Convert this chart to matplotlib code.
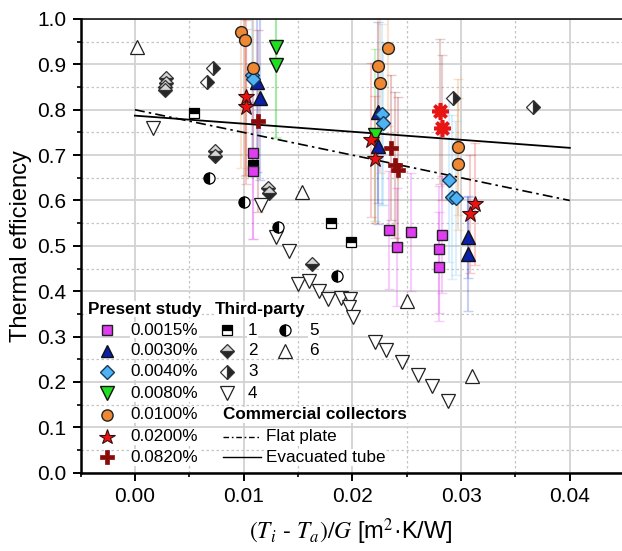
import matplotlib
matplotlib.use('Agg')
import matplotlib.pyplot as plt
from matplotlib.ticker import MultipleLocator, FormatStrFormatter

plt.rcParams['font.family'] = ['Liberation Sans', 'DejaVu Sans']
plt.rcParams['mathtext.fontset'] = 'stix'

# ---------------- Present study (nanofluid concentration) ----------------
x_0015 = [0.0109, 0.0109, 0.0234, 0.0241, 0.0254, 0.0282, 0.0280, 0.0280]
eta_0015 = [0.705, 0.666, 0.535, 0.497, 0.530, 0.525, 0.492, 0.454]
err_0015 = [0.19, 0.15, 0.13, 0.13, 0.13, 0.13, 0.14, 0.12]

x_0030 = [0.0112, 0.0115, 0.0224, 0.0224, 0.0306, 0.0306]
eta_0030 = [0.862, 0.825, 0.794, 0.719, 0.519, 0.482]
err_0030 = [0.20, 0.18, 0.20, 0.17, 0.09, 0.125]

x_0040 = [0.0108, 0.0109, 0.0227, 0.0228, 0.0289, 0.0292, 0.0295]
eta_0040 = [0.877, 0.868, 0.790, 0.770, 0.645, 0.608, 0.606]
err_0040 = [0.20, 0.20, 0.20, 0.18, 0.18, 0.18, 0.17]

x_0080 = [0.0130, 0.0130, 0.0221]
eta_0080 = [0.938, 0.899, 0.744]
err_0080 = [0.20, 0.16, 0.19]

x_0100 = [0.0098, 0.0101, 0.0109, 0.0224, 0.0225, 0.0233, 0.0297, 0.0297]
eta_0100 = [0.972, 0.954, 0.893, 0.896, 0.860, 0.935, 0.717, 0.680]
err_0100 = [0.30, 0.30, 0.20, 0.18, 0.20, 0.17, 0.15, 0.145]

x_0200 = [0.0102, 0.0102, 0.0217, 0.0221, 0.0313, 0.0308]
eta_0200 = [0.827, 0.807, 0.733, 0.691, 0.592, 0.570]
err_0200 = [0.17, 0.17, 0.17, 0.14, 0.135, 0.13]

x_0820 = [0.0113, 0.0236, 0.0239, 0.0242]
eta_0820 = [0.775, 0.716, 0.678, 0.667]
err_0820 = [0.20, 0.16, 0.16, 0.16]

x_extra = [0.0281, 0.0282]
eta_extra = [0.797, 0.760]
err_extra = [0.16, 0.16]

# ---------------- Third-party data ----------------
x_tp1 = [0.0054, 0.0109, 0.0180, 0.0199]
eta_tp1 = [0.792, 0.678, 0.551, 0.508]

x_tp2 = [0.0029, 0.0029, 0.0028, 0.0028, 0.0074, 0.0074, 0.0122, 0.0123, 0.0163]
eta_tp2 = [0.870, 0.860, 0.851, 0.843, 0.709, 0.697, 0.627, 0.617, 0.459]

x_tp3 = [0.0066, 0.0072, 0.0293, 0.0366]
eta_tp3 = [0.862, 0.891, 0.825, 0.807]

x_tp4 = [0.0017, 0.0116, 0.0130, 0.0142, 0.0150, 0.0160, 0.0169, 0.0178, 0.0190,
         0.0198, 0.0197, 0.0201, 0.0221, 0.0231, 0.0246, 0.0260, 0.0273, 0.0288]
eta_tp4 = [0.759, 0.589, 0.519, 0.489, 0.417, 0.422, 0.401, 0.383, 0.386,
           0.383, 0.366, 0.344, 0.287, 0.270, 0.243, 0.215, 0.190, 0.159]

x_tp5 = [0.0068, 0.0100, 0.0132, 0.0186]
eta_tp5 = [0.649, 0.596, 0.541, 0.434]

x_tp6 = [0.0002, 0.0154, 0.0250, 0.0310]
eta_tp6 = [0.938, 0.618, 0.379, 0.213]

# ---------------- Commercial collectors ----------------
x_comm = [0.0, 0.04]
eta_flat = [0.800, 0.600]
eta_evac = [0.787, 0.716]

# ---------------- Styles ----------------
present = [
    ('0.0015%', x_0015, eta_0015, err_0015, dict(marker='s', ms=7, mfc='#E03CF0', mec='#222222', mew=1.0), '#E03CF0'),
    ('0.0030%', x_0030, eta_0030, err_0030, dict(marker='^', ms=9.5, mfc='#0B1FA8', mec='#111111', mew=1.0), '#2040E0'),
    ('0.0040%', x_0040, eta_0040, err_0040, dict(marker='D', ms=7.5, mfc='#4DB3F5', mec='#1a3a5a', mew=1.0), '#70C0F5'),
    ('0.0080%', x_0080, eta_0080, err_0080, dict(marker='v', ms=10, mfc='#1EE01E', mec='#111111', mew=1.0), '#30D030'),
    ('0.0100%', x_0100, eta_0100, err_0100, dict(marker='o', ms=8.5, mfc='#EE8833', mec='#222222', mew=1.0), '#F09040'),
    ('0.0200%', x_0200, eta_0200, err_0200, dict(marker='*', ms=12, mfc='#F01010', mec='#331111', mew=0.8), '#F03030'),
    ('0.0820%', x_0820, eta_0820, err_0820, dict(marker='P', ms=10, mfc='#8B0A0A', mec='#8B0A0A', mew=0.5), '#A02020'),
]

third = [
    ('1', x_tp1, eta_tp1, dict(marker='s', ms=7, fillstyle='top', mfc='black', mfcalt='white', mec='black', mew=0.9)),
    ('2', x_tp2, eta_tp2, dict(marker='D', ms=7.5, fillstyle='bottom', mfc='#262626', mfcalt='#d6d6d6', mec='#333333', mew=0.9)),
    ('3', x_tp3, eta_tp3, dict(marker='D', ms=7.5, fillstyle='right', mfc='#262626', mfcalt='white', mec='#333333', mew=0.9)),
    ('4', x_tp4, eta_tp4, dict(marker='v', ms=10, mfc='white', mec='#222222', mew=0.9)),
    ('5', x_tp5, eta_tp5, dict(marker='o', ms=8, fillstyle='left', mfc='black', mfcalt='white', mec='black', mew=0.9)),
    ('6', x_tp6, eta_tp6, dict(marker='^', ms=10, mfc='white', mec='#222222', mew=0.9)),
]

fig = plt.figure(figsize=(6.22, 5.51), dpi=100)
ax = fig.add_axes([80.5 / 622, (551 - 472.7) / 551, (622 - 80.5) / 622, (472.7 - 19) / 551])
ax.set_xlim(-0.005, 0.0448)
ax.set_ylim(0.0, 1.0)

# grid
ax.set_axisbelow(True)
ax.xaxis.set_major_locator(MultipleLocator(0.01))
ax.xaxis.set_minor_locator(MultipleLocator(0.005))
ax.yaxis.set_major_locator(MultipleLocator(0.1))
ax.yaxis.set_minor_locator(MultipleLocator(0.05))
ax.xaxis.set_major_formatter(FormatStrFormatter('%.2f'))
ax.yaxis.set_major_formatter(FormatStrFormatter('%.1f'))
ax.grid(which='major', color='#d2d2d2', lw=1.3, ls='-')
ax.grid(which='minor', color='#c4c4c4', lw=0.9, ls=(0, (2, 2)))

for s in ['left', 'bottom']:
    ax.spines[s].set_linewidth(1.8)
ax.spines['top'].set_linewidth(1.1)
ax.spines['right'].set_visible(False)
ax.tick_params(which='major', direction='out', length=6, width=1.4, labelsize=15, pad=4,
               top=False, right=False)
ax.tick_params(which='minor', direction='out', length=3, width=1.2, top=False, right=False)

# commercial collectors
ax.plot(x_comm, eta_flat, color='black', lw=1.2, ls=(0, (6, 2.5, 1.5, 2.5)), zorder=3)
ax.plot(x_comm, eta_evac, color='black', lw=1.3, ls='-', zorder=3)

# third-party points
for name, xs, ys, st in third:
    ax.plot(xs, ys, ls='none', zorder=3, **st)

# present study with uncertainty bars
for name, xs, ys, es, st, ec in present:
    ax.errorbar(xs, ys, yerr=es, fmt='none', ecolor=ec, alpha=0.25, elinewidth=1.5,
                capsize=3.5, capthick=1.0, zorder=2)
ax.errorbar(x_extra, eta_extra, yerr=err_extra, fmt='none', ecolor='#A04040', alpha=0.25,
            elinewidth=1.5, capsize=3.5, capthick=1.0, zorder=2)
for name, xs, ys, es, st, ec in present:
    ax.plot(xs, ys, ls='none', zorder=5, **st)
ax.plot(x_extra, eta_extra, ls='none', marker=(8, 2, 0), ms=12, mec='#E81515', mew=2.6, zorder=5)

ax.set_ylabel('Thermal efficiency', fontsize=17, labelpad=4)
ax.set_xlabel(r'$(T_i$ - $T_a)/G$ [m$^{2}$·K/W]', fontsize=17, labelpad=8)

# ---------------- Legend (drawn in axes fraction) ----------------
tr = ax.transAxes
tbox = dict(fc='white', ec='none', pad=0.6)
fs = 12.3
row_y = [0.3145, 0.2689, 0.2226, 0.1750, 0.1272, 0.0793, 0.0339]
head_y = 0.3608

ax.text(0.0139, head_y, 'Present study', transform=tr, fontsize=fs, fontweight='bold',
        va='center', ha='left', bbox=tbox, zorder=6)
for (name, xs, ys, es, st, ec), yy in zip(present, row_y):
    st2 = dict(st)
    st2['ms'] = st2['ms'] * 0.95
    ax.plot([0.0484], [yy], transform=tr, ls='none', clip_on=False, zorder=7, **st2)
    ax.text(0.0927, yy, name, transform=tr, fontsize=fs, va='center', ha='left',
            bbox=tbox, zorder=6)

ax.text(0.2484, head_y, 'Third-party', transform=tr, fontsize=fs, fontweight='bold',
        va='center', ha='left', bbox=tbox, zorder=6)
tp_pos = [(0.270, 0.3093, row_y[0]), (0.270, 0.3093, row_y[1]), (0.270, 0.3093, row_y[2]),
          (0.270, 0.3093, row_y[3]), (0.3777, 0.422, row_y[0]), (0.3777, 0.422, row_y[1])]
for (name, xs, ys, st), (mx, tx, yy) in zip(third, tp_pos):
    ax.plot([mx], [yy], transform=tr, ls='none', clip_on=False, zorder=7, **st)
    ax.text(tx, yy, name, transform=tr, fontsize=fs, va='center', ha='left',
            bbox=tbox, zorder=6)

ax.text(0.2632, row_y[4], 'Commercial collectors', transform=tr, fontsize=fs,
        fontweight='bold', va='center', ha='left', bbox=tbox, zorder=6)
ax.plot([0.2632, 0.3333], [row_y[5], row_y[5]], transform=tr, color='black', lw=1.0,
        ls=(0, (4, 2, 1.2, 2)), zorder=7)
ax.text(0.3426, row_y[5], 'Flat plate', transform=tr, fontsize=fs, va='center', ha='left',
        bbox=tbox, zorder=6)
ax.plot([0.2632, 0.3333], [row_y[6], row_y[6]], transform=tr, color='black', lw=1.0,
        ls='-', zorder=7)
ax.text(0.3426, row_y[6], 'Evacuated tube', transform=tr, fontsize=fs, va='center',
        ha='left', bbox=tbox, zorder=6)

fig.savefig('out.png', dpi=100)
